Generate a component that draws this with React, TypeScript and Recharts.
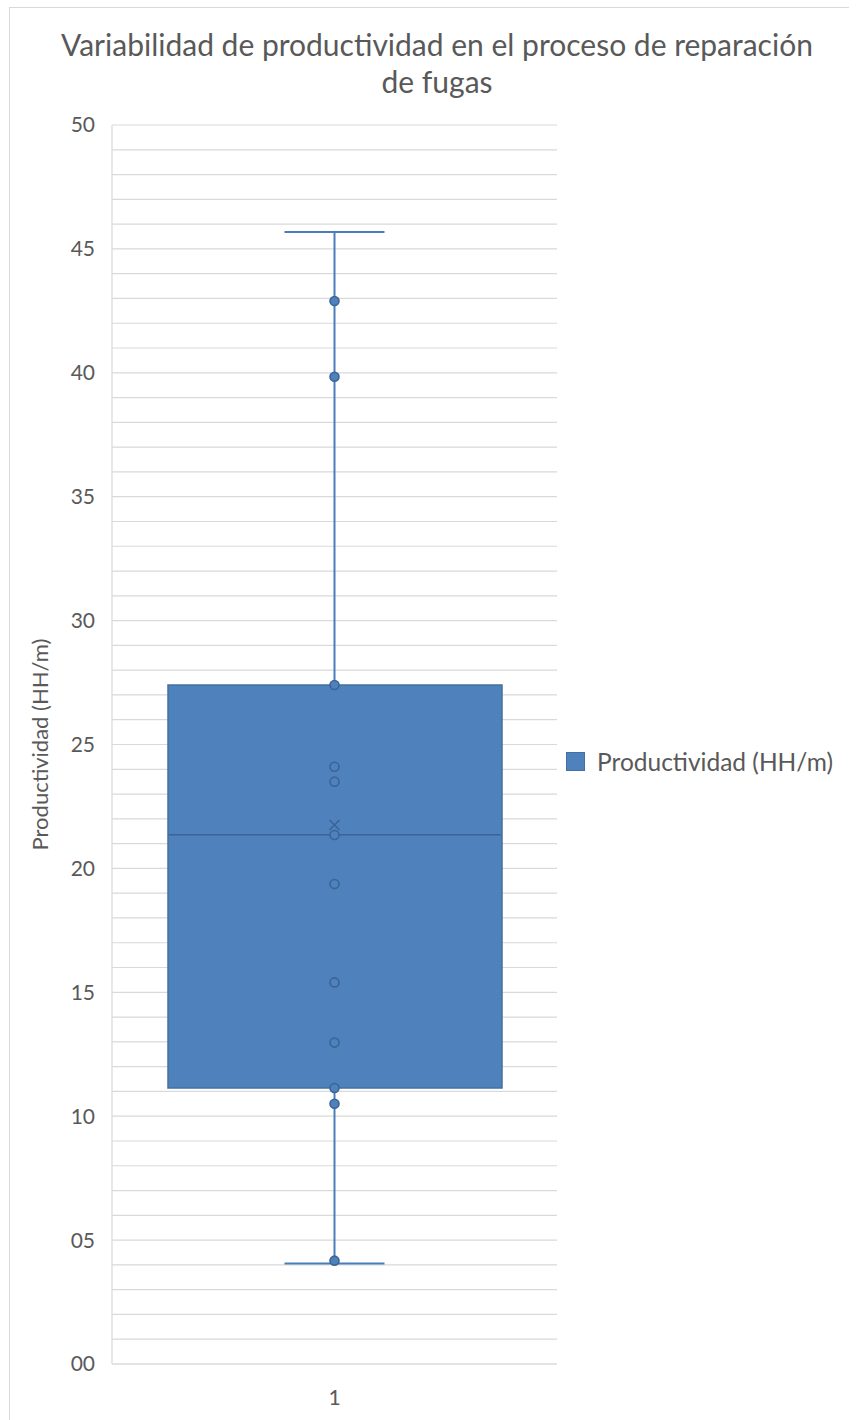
import { Bar, CartesianGrid, ComposedChart, Legend, Scatter, XAxis, YAxis } from 'recharts';

// box plot (Productividad HH/m)
const categories = ['1'];
const boxRange = [11.14, 27.4]; // Q1, Q3
const whiskerLow = [4.06, 11.14];
const whiskerHigh = [27.4, 45.68];
const caps = [4.06, 45.68];
const median = [21.36];
const mean = [21.75];
const points = [42.9, 39.84, 27.4, 24.1, 23.5, 21.35, 19.37, 15.4, 12.97, 11.14, 10.5, 4.17];

const yTicks = [
  0, 1, 2, 3, 4, 5, 6, 7, 8, 9, 10, 11, 12, 13, 14, 15, 16, 17, 18, 19, 20, 21, 22, 23, 24, 25,
  26, 27, 28, 29, 30, 31, 32, 33, 34, 35, 36, 37, 38, 39, 40, 41, 42, 43, 44, 45, 46, 47, 48, 49, 50,
];
const yLabels = [0, 5, 10, 15, 20, 25, 30, 35, 40, 45, 50];

const seriesName = 'Productividad (HH/m)';
const FILL = '#4F81BD';
const EDGE = '#41719C';
const DARK = '#3A6594';
const TEXT = '#595959';
const GRID = '#D9D9D9';
const FONT = 'Lato, "Noto Sans", sans-serif';

const data = categories.map((cat) => ({ cat, box: boxRange }));
const toPts = (vals: number[]) => vals.map((v) => ({ x: 1, v }));

const Nothing = () => <g />;

const Dot = (p: any) => <circle cx={p.cx} cy={p.cy} r={4.5} fill={FILL} stroke={DARK} strokeWidth={1.6} />;

const Cap = (p: any) => <line x1={p.cx - 50} x2={p.cx + 50} y1={p.cy} y2={p.cy} stroke="#4A7EBB" strokeWidth={2} />;

const MedianLine = (p: any) => (
  <line x1={p.cx - 166} x2={p.cx + 166} y1={p.cy} y2={p.cy} stroke={DARK} strokeWidth={1.5} />
);

const Cross = (p: any) => (
  <g stroke={DARK} strokeWidth={1.6}>
    <line x1={p.cx - 5} y1={p.cy - 5} x2={p.cx + 5} y2={p.cy + 5} />
    <line x1={p.cx - 5} y1={p.cy + 5} x2={p.cx + 5} y2={p.cy - 5} />
  </g>
);

const LegendBox = () => (
  <div
    style={{
      width: 280,
      boxSizing: 'border-box',
      paddingLeft: 9,
      display: 'flex',
      alignItems: 'center',
      fontFamily: FONT,
      fontSize: 24.5,
      color: TEXT,
      whiteSpace: 'nowrap',
    }}
  >
    <span
      style={{
        width: 19,
        height: 19,
        boxSizing: 'border-box',
        background: FILL,
        border: `1px solid ${EDGE}`,
        marginRight: 12,
        display: 'inline-block',
        flex: 'none',
      }}
    />
    {seriesName}
  </div>
);

export default function App() {
  return (
    <div style={{ position: 'absolute', left: 0, top: 0, width: 858, height: 1420, background: '#fff' }}>
      <div
        style={{
          position: 'absolute',
          left: 9,
          top: 7,
          width: 839,
          height: 1413,
          borderTop: `1px solid ${GRID}`,
          borderLeft: `1px solid ${GRID}`,
        }}
      />
      <div
        style={{
          position: 'absolute',
          left: 16,
          top: 26,
          width: 842,
          textAlign: 'center',
          fontFamily: FONT,
          fontSize: 30,
          lineHeight: '37px',
          color: TEXT,
          whiteSpace: 'nowrap',
        }}
      >
        Variabilidad de productividad en el proceso de reparación
        <br />
        de fugas
      </div>
      <ComposedChart
        width={858}
        height={1420}
        data={data}
        margin={{ top: 125, right: 21, bottom: 16, left: 20 }}
        style={{ fontFamily: FONT }}
      >
        <CartesianGrid vertical={false} stroke={GRID} strokeWidth={1.2} />
        <XAxis
          dataKey="cat"
          height={40}
          axisLine={{ stroke: GRID, strokeWidth: 1.2 }}
          tickLine={false}
          tickSize={0}
          tickMargin={26}
          tick={{ fill: TEXT, fontSize: 21 }}
        />
        <XAxis xAxisId="pts" dataKey="x" type="number" domain={[0, 2]} hide />
        <YAxis
          dataKey="v"
          type="number"
          domain={[0, 50]}
          ticks={yTicks}
          interval={0}
          width={92}
          axisLine={{ stroke: GRID, strokeWidth: 1.2 }}
          tickLine={false}
          tickSize={0}
          tickMargin={17}
          tick={{ fill: TEXT, fontSize: 21 }}
          tickFormatter={(v: number) => (yLabels.includes(v) ? String(v).padStart(2, '0') : '')}
          label={{
            value: seriesName,
            angle: -90,
            position: 'insideLeft',
            offset: 20,
            style: { textAnchor: 'middle', fill: TEXT, fontSize: 22 },
          }}
        />
        <Legend layout="vertical" align="right" verticalAlign="middle" content={LegendBox} wrapperStyle={{ top: 747 }} />
        <Bar dataKey="box" name={seriesName} barSize={334} fill={FILL} stroke={EDGE} strokeWidth={1.5} isAnimationActive={false} />
        <Scatter xAxisId="pts" data={toPts(whiskerLow)} dataKey="v" line={{ stroke: '#4A7EBB', strokeWidth: 2 }} lineType="joint" shape={Nothing} isAnimationActive={false} />
        <Scatter xAxisId="pts" data={toPts(whiskerHigh)} dataKey="v" line={{ stroke: '#4A7EBB', strokeWidth: 2 }} lineType="joint" shape={Nothing} isAnimationActive={false} />
        <Scatter xAxisId="pts" data={toPts(caps)} dataKey="v" shape={Cap} isAnimationActive={false} />
        <Scatter xAxisId="pts" data={toPts(median)} dataKey="v" shape={MedianLine} isAnimationActive={false} />
        <Scatter xAxisId="pts" data={toPts(mean)} dataKey="v" shape={Cross} isAnimationActive={false} />
        <Scatter xAxisId="pts" data={toPts(points)} dataKey="v" shape={Dot} isAnimationActive={false} />
      </ComposedChart>
    </div>
  );
}
